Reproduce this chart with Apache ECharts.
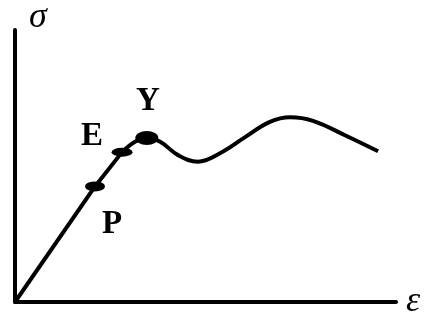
<!DOCTYPE html>
<html>
<head>
<meta charset="utf-8">
<script src="https://cdn.jsdelivr.net/npm/echarts@6/dist/echarts.min.js"></script>
<style>
  html, body { margin: 0; padding: 0; background: #fff; }
  #chart { width: 424px; height: 320px; }
</style>
</head>
<body>
<div id="chart"></div>
<script>
// 弹性段（原点 -> P -> E），直线
var elasticStrain = [0, 21.0, 28.1];
var elasticStress = [0, 42.5, 55.1];

// 屈服后曲线（E -> Y -> 下降 -> 强化 -> 颈缩）
var plasticStrain = [28.1, 31.5, 34.6, 38.1, 42.8, 48.0, 53.8, 60.4, 66.9, 72.2, 78.2, 86.6, 95.3];
var plasticStress = [55.1, 58.9, 60.3, 58.9, 54.0, 51.6, 54.7, 60.6, 66.2, 67.9, 66.6, 61.3, 55.4];

// 特征点
var pointNames = ['P', 'E', 'Y'];
var pointStrain = [21.0, 28.1, 34.6];
var pointStress = [42.5, 55.1, 60.3];

function pairs(xs, ys) {
  return xs.map(function (x, i) { return [x, ys[i]]; });
}

var labelFont = { fontFamily: 'Liberation Serif', fontWeight: 'bold', fontSize: 33, color: '#000' };
var labelOffsets = { P: [17, 38], E: [-30, -16], Y: [1, -37] };
var dotSizes = { P: [20, 10], E: [21, 9], Y: [23, 14] };

var chart = echarts.init(document.getElementById('chart'));

chart.setOption({
  animation: false,
  grid: { left: 15, right: 28, top: 25, bottom: 8 },
  xAxis: {
    type: 'value',
    min: 0,
    max: 100,
    name: 'ε',
    nameLocation: 'end',
    nameGap: 10,
    nameTextStyle: { fontFamily: 'Liberation Serif', fontStyle: 'italic', fontSize: 36, color: '#000', align: 'left' },
    axisLine: { show: true, lineStyle: { color: '#000', width: 4 } },
    axisTick: { show: false },
    axisLabel: { show: false },
    splitLine: { show: false }
  },
  yAxis: {
    type: 'value',
    min: 0,
    max: 100,
    name: 'σ',
    nameLocation: 'end',
    nameGap: -6,
    nameTextStyle: { fontFamily: 'Liberation Serif', fontStyle: 'italic', fontSize: 36, color: '#000', align: 'left', padding: [0, 0, 0, 14] },
    axisLine: { show: true, lineStyle: { color: '#000', width: 4 } },
    axisTick: { show: false },
    axisLabel: { show: false },
    splitLine: { show: false }
  },
  series: [
    {
      type: 'line',
      data: pairs(elasticStrain, elasticStress),
      showSymbol: false,
      lineStyle: { color: '#000', width: 4 }
    },
    {
      type: 'line',
      data: pairs(plasticStrain, plasticStress),
      smooth: 0.4,
      showSymbol: false,
      lineStyle: { color: '#000', width: 4 }
    },
    {
      type: 'scatter',
      data: pointNames.map(function (n, i) {
        return {
          name: n,
          value: [pointStrain[i], pointStress[i]],
          symbolSize: dotSizes[n],
          label: {
            show: true,
            formatter: n,
            position: 'inside',
            offset: labelOffsets[n]
          }
        };
      }),
      symbol: 'circle',
      itemStyle: { color: '#000', opacity: 1 },
      label: labelFont
    }
  ]
});
</script>
</body>
</html>
